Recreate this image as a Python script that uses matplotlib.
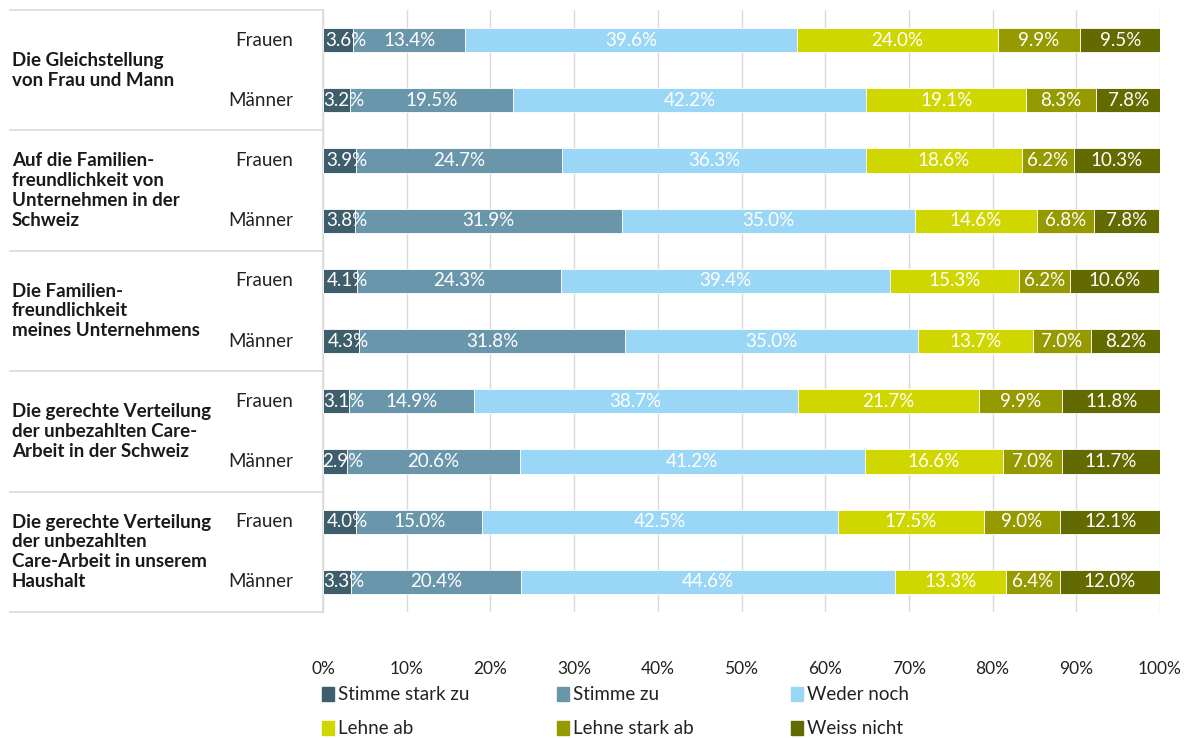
import matplotlib.pyplot as plt
from matplotlib.patches import Rectangle

plt.rcParams['font.family'] = ['Lato', 'DejaVu Sans']

# Data
groups = [
    "Die Gleichstellung\nvon Frau und Mann",
    "Auf die Familien-\nfreundlichkeit von\nUnternehmen in der\nSchweiz",
    "Die Familien-\nfreundlichkeit\nmeines Unternehmens",
    "Die gerechte Verteilung\nder unbezahlten Care-\nArbeit in der Schweiz",
    "Die gerechte Verteilung\nder unbezahlten\nCare-Arbeit in unserem\nHaushalt",
]
rows = ["Frauen", "Männer"]
series = ["Stimme stark zu", "Stimme zu", "Weder noch",
          "Lehne ab", "Lehne stark ab", "Weiss nicht"]
colors = ["#3f5e6c", "#6a96ab", "#9ad6f5", "#d0d600", "#959a00", "#636a00"]

stimme_stark_zu = [3.6, 3.2, 3.9, 3.8, 4.1, 4.3, 3.1, 2.9, 4.0, 3.3]
stimme_zu = [13.4, 19.5, 24.7, 31.9, 24.3, 31.8, 14.9, 20.6, 15.0, 20.4]
weder_noch = [39.6, 42.2, 36.3, 35.0, 39.4, 35.0, 38.7, 41.2, 42.5, 44.6]
lehne_ab = [24.0, 19.1, 18.6, 14.6, 15.3, 13.7, 21.7, 16.6, 17.5, 13.3]
lehne_stark_ab = [9.9, 8.3, 6.2, 6.8, 6.2, 7.0, 9.9, 7.0, 9.0, 6.4]
weiss_nicht = [9.5, 7.8, 10.3, 7.8, 10.6, 8.2, 11.8, 11.7, 12.1, 12.0]
values = [stimme_stark_zu, stimme_zu, weder_noch, lehne_ab, lehne_stark_ab, weiss_nicht]

fig = plt.figure(figsize=(11.91, 7.38), dpi=100)
ax = fig.add_axes([323 / 1191, 1 - 612 / 738, 837 / 1191, 602 / 738])

n = len(stimme_stark_zu)
ypos = [n - 0.5 - i for i in range(n)]
left = [0.0] * n
for k, (name, vals, col) in enumerate(zip(series, values, colors)):
    ax.barh(ypos, vals, left=left, height=0.4, color=col,
            edgecolor="white", linewidth=0.6, zorder=3)
    # the narrow first segment has its label nudged right, as in the original
    shift = 0.9 if k == 0 else 0
    for y, l, v in zip(ypos, left, vals):
        ax.text(l + v / 2 + shift, y, f"{v:.1f}%", ha="center", va="center",
                color="white", fontsize=13.5, zorder=5 if k == 0 else 4)
    left = [l + v for l, v in zip(left, vals)]

ax.set_xlim(0, 100)
ax.set_ylim(0, n)
ax.set_xticks(range(0, 101, 10))
ax.set_xticklabels([f"{t}%" for t in range(0, 101, 10)], fontsize=12.5, color="#222222")
ax.set_yticks([])
ax.tick_params(axis="x", length=0, pad=35)
ax.grid(axis="x", color="#dadada", linewidth=1, zorder=0)
for s in ["top", "right", "bottom"]:
    ax.spines[s].set_visible(False)
ax.spines["left"].set_color("#dadada")
ax.spines["left"].set_linewidth(1.2)

# left table: row labels, group labels and separators
x_line0 = (10 - 323) / 837
for i, y in enumerate(ypos):
    ax.text(-0.036, y, rows[i % 2], transform=ax.get_yaxis_transform(),
            ha="right", va="center", fontsize=13.5, color="#222222")
for g, label in enumerate(groups):
    yc = n - 1 - 2 * g
    ax.text(-0.372, yc, label, transform=ax.get_yaxis_transform(),
            ha="left", va="center", fontsize=13.5, fontweight="bold",
            color="#1a1a1a", linespacing=1.2)
for k in range(len(groups) + 1):
    ax.plot([x_line0, 0], [2 * k, 2 * k], transform=ax.get_yaxis_transform(),
            color="#dadada", linewidth=1.2, clip_on=False)

# legend
leg_x = [322, 557, 791]
leg_y = [694, 728]
for i, (name, col) in enumerate(zip(series, colors)):
    px = leg_x[i % 3]
    py = leg_y[i // 3]
    fig.patches.append(Rectangle((px / 1191, 1 - (py + 7) / 738), 12 / 1191, 14 / 738,
                                 transform=fig.transFigure, color=col))
    fig.text((px + 16) / 1191, 1 - py / 738, name, ha="left", va="center",
             fontsize=13.5, color="#222222")

fig.savefig("out.png", dpi=100)
